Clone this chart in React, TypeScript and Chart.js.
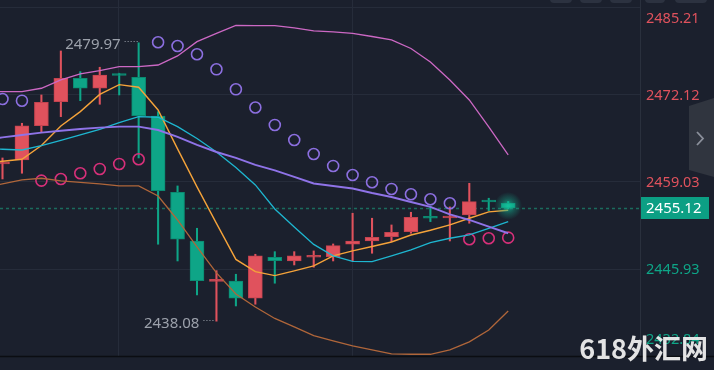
import React, { useEffect, useRef } from 'react';
import { Chart, registerables } from 'chart.js';

Chart.register(...registerables);

// ---------- data ----------
const candleIdx = [0, 1, 2, 3, 4, 5, 6, 7, 8, 9, 10, 11, 12, 13, 14, 15, 16, 17, 18, 19, 20, 21, 22, 23, 24, 25, 26];
const opens = [2461.75, 2462.34, 2467.5, 2471.11, 2474.63, 2473.13, 2475.2, 2474.78, 2468.96, 2457.48, 2450.15, 2444.06, 2444.13, 2441.53, 2447.7, 2447.14, 2447.7, 2447.79, 2449.66, 2450.15, 2450.8, 2451.55, 2453.81, 2453.61, 2454.06, 2456.17, 2455.8];
const highs = [2462.64, 2467.86, 2472.12, 2478.74, 2475.63, 2476.29, 2475.39, 2479.97, 2469.61, 2458.43, 2452.06, 2445.68, 2445.14, 2448.15, 2448.54, 2448.54, 2448.65, 2449.7, 2454.32, 2453.57, 2452.56, 2454.47, 2455.42, 2455.27, 2458.83, 2456.58, 2456.1];
const lows = [2459.48, 2460.34, 2466.6, 2468.86, 2471.26, 2470.72, 2472.12, 2462.64, 2449.66, 2447.14, 2442.03, 2438.08, 2440.37, 2440.63, 2443.79, 2446.54, 2446.2, 2447.14, 2447.14, 2448.3, 2450.05, 2451.31, 2453.06, 2450.15, 2452.82, 2454.71, 2455.0];
const closes = [2461.85, 2467.46, 2471.02, 2474.63, 2473.13, 2475.13, 2475.05, 2469.01, 2457.72, 2450.41, 2444.18, 2444.21, 2441.53, 2447.9, 2447.19, 2447.9, 2447.85, 2449.45, 2450.15, 2450.71, 2451.46, 2453.72, 2453.57, 2453.76, 2456.07, 2456.02, 2455.12];

// indicator lines start one bar before the first visible candle
const lineIdx = [-1, 0, 1, 2, 3, 4, 5, 6, 7, 8, 9, 10, 11, 12, 13, 14, 15, 16, 17, 18, 19, 20, 21, 22, 23, 24, 25, 26];
const upperBand = [2472.62, 2472.62, 2472.62, 2473.13, 2474.38, 2475.28, 2475.78, 2476.38, 2476.38, 2476.63, 2477.99, 2480.14, 2481.4, 2482.58, 2482.55, 2482.55, 2482.2, 2481.75, 2481.6, 2481.4, 2480.92, 2480.4, 2479.12, 2477.09, 2474.38, 2471.37, 2467.31, 2463.09];
const lowerBand = [2458.13, 2458.73, 2459.33, 2459.59, 2459.18, 2458.98, 2458.73, 2458.43, 2458.43, 2456.92, 2453.31, 2449.25, 2445.34, 2442.18, 2440.22, 2438.49, 2437.21, 2435.9, 2435.11, 2434.35, 2433.75, 2433.15, 2433.1, 2433.1, 2433.75, 2434.96, 2436.76, 2439.62];
const midLine = [2465.35, 2465.73, 2466.1, 2466.45, 2466.73, 2467.0, 2467.2, 2467.35, 2467.35, 2466.85, 2465.8, 2464.6, 2463.54, 2462.64, 2461.59, 2460.76, 2459.78, 2458.8, 2458.43, 2458.05, 2457.37, 2456.77, 2456.02, 2455.27, 2454.14, 2453.31, 2452.3, 2451.31];
const cyanLine = [2464.0, 2463.95, 2463.84, 2464.49, 2465.27, 2466.1, 2466.96, 2467.95, 2468.86, 2468.77, 2467.35, 2465.58, 2463.54, 2461.21, 2458.58, 2454.97, 2452.26, 2449.63, 2447.9, 2447.07, 2447.04, 2447.9, 2448.8, 2449.9, 2450.56, 2451.06, 2452.06, 2453.06];
const orangeLine = [2461.89, 2462.14, 2462.45, 2464.52, 2467.46, 2469.61, 2472.2, 2473.67, 2473.28, 2469.86, 2464.0, 2458.28, 2452.79, 2447.37, 2445.53, 2444.93, 2445.64, 2446.39, 2447.9, 2448.65, 2449.32, 2450.0, 2451.05, 2451.76, 2452.56, 2453.57, 2454.52, 2454.77];
const sar = [2471.52, 2471.26, 2459.23, 2459.48, 2460.34, 2460.99, 2461.74, 2462.45, 2480.05, 2479.49, 2478.24, 2475.98, 2472.97, 2470.24, 2467.61, 2465.35, 2463.24, 2461.44, 2460.08, 2458.98, 2457.98, 2457.18, 2456.43, 2455.83, 2450.41, 2450.56, 2450.65];

const yTicks = [2432.84, 2445.93, 2459.03, 2472.12, 2485.21];
const yMin = 2432.84;
const yMax = 2486.41;
const lastPrice = 2455.12;
const highLabel = '2479.97';
const lowLabel = '2438.08';
const vGridIdx = [6, 18];
const watermark = '618外汇网';

// ---------- styles ----------
const BG = '#1b202d';
const GRID = '#262c3a';
const UP = '#e0525d';
const DOWN = '#0ea587';
const FONT = "'Noto Sans', 'DejaVu Sans', sans-serif";

const overlayPlugin = {
  id: 'overlay',
  beforeDatasetsDraw(chart: any) {
    const { ctx, chartArea: a, scales } = chart;
    const xs = scales.x;
    const ys = scales.y;
    ctx.save();
    ctx.strokeStyle = GRID;
    ctx.lineWidth = 1;
    vGridIdx.forEach((v) => {
      const px = Math.round(xs.getPixelForValue(v)) - 0.5;
      ctx.beginPath();
      ctx.moveTo(px, a.top);
      ctx.lineTo(px, a.bottom);
      ctx.stroke();
    });
    const py = Math.round(ys.getPixelForValue(lastPrice)) + 0.5;
    ctx.strokeStyle = '#1b6b5e';
    ctx.lineWidth = 1.5;
    ctx.setLineDash([3, 3]);
    ctx.beginPath();
    ctx.moveTo(a.left, py);
    ctx.lineTo(a.right, py);
    ctx.stroke();
    ctx.restore();
  },
  afterDatasetsDraw(chart: any) {
    const { ctx, scales } = chart;
    const xs = scales.x;
    const ys = scales.y;
    const n = candleIdx.length - 1;
    const gx = xs.getPixelForValue(candleIdx[n]);
    const gy = ys.getPixelForValue(closes[n]) - 2;
    ctx.save();
    const g = ctx.createRadialGradient(gx, gy, 1, gx, gy, 14);
    g.addColorStop(0, 'rgba(20,200,160,0.75)');
    g.addColorStop(0.5, 'rgba(20,170,140,0.35)');
    g.addColorStop(1, 'rgba(20,170,140,0)');
    ctx.fillStyle = g;
    ctx.beginPath();
    ctx.arc(gx, gy, 14, 0, Math.PI * 2);
    ctx.fill();
    ctx.restore();
  },
  afterDraw(chart: any) {
    const { ctx, chartArea: a, scales, width } = chart;
    const xs = scales.x;
    const ys = scales.y;
    ctx.save();

    // high / low annotations
    const hiI = highs.indexOf(Math.max(...highs));
    const loI = lows.indexOf(Math.min(...lows));
    ctx.font = `15px ${FONT}`;
    ctx.fillStyle = '#9ca1ab';
    ctx.textBaseline = 'middle';
    const hx = xs.getPixelForValue(candleIdx[hiI]);
    const hy = ys.getPixelForValue(highs[hiI]);
    ctx.textAlign = 'right';
    ctx.fillText(highLabel, hx - 18, hy + 2);
    const lx = xs.getPixelForValue(candleIdx[loI]);
    const ly = ys.getPixelForValue(lows[loI]);
    ctx.fillText(lowLabel, lx - 17, ly + 3);
    ctx.strokeStyle = '#9ca1ab';
    ctx.lineWidth = 1;
    ctx.setLineDash([1, 2]);
    ctx.beginPath();
    ctx.moveTo(hx - 14, Math.round(hy) - 1.5);
    ctx.lineTo(hx - 1, Math.round(hy) - 1.5);
    ctx.moveTo(lx - 13, Math.round(ly) - 0.5);
    ctx.lineTo(lx - 1, Math.round(ly) - 0.5);
    ctx.stroke();
    ctx.setLineDash([]);

    // y axis labels
    ctx.font = `14.5px ${FONT}`;
    ctx.textAlign = 'left';
    yTicks.forEach((t) => {
      let y = ys.getPixelForValue(t) + 1;
      y = Math.max(a.top + 19, Math.min(a.bottom - 16, y));
      ctx.fillStyle = t > lastPrice ? UP : DOWN;
      ctx.fillText(t.toFixed(2), a.right + 6, y);
    });

    // last price tag
    const py = ys.getPixelForValue(lastPrice);
    ctx.fillStyle = '#0c9f84';
    ctx.fillRect(a.right + 1, Math.round(py) - 11, 68, 22);
    ctx.fillStyle = '#ffffff';
    ctx.font = `15px ${FONT}`;
    ctx.fillText(lastPrice.toFixed(2), a.right + 6, py + 0.5);

    // bottom line
    ctx.strokeStyle = '#0b0d12';
    ctx.lineWidth = 1.5;
    ctx.beginPath();
    ctx.moveTo(0, a.bottom + 0.5);
    ctx.lineTo(width, a.bottom + 0.5);
    ctx.stroke();

    // collapse handle
    ctx.fillStyle = '#30353f';
    ctx.beginPath();
    ctx.moveTo(689, 106);
    ctx.lineTo(714, 98);
    ctx.lineTo(714, 177);
    ctx.lineTo(689, 170);
    ctx.closePath();
    ctx.fill();
    ctx.strokeStyle = '#8b909b';
    ctx.lineWidth = 1.8;
    ctx.beginPath();
    ctx.moveTo(697, 132);
    ctx.lineTo(703, 138.5);
    ctx.lineTo(697, 145);
    ctx.stroke();

    // toolbar stubs at top
    ctx.fillStyle = '#2c3240';
    [[550, 22], [580, 22], [610, 22], [645, 20], [675, 32]].forEach(([x0, w]) => {
      ctx.beginPath();
      ctx.roundRect(x0, -8, w, 11, 4);
      ctx.fill();
    });

    // watermark
    ctx.font = `bold 27px 'Noto Sans CJK SC', ${FONT}`;
    ctx.textAlign = 'right';
    ctx.textBaseline = 'alphabetic';
    ctx.fillStyle = 'rgba(238,238,238,0.95)';
    ctx.fillText(watermark, 708, 359);
    ctx.restore();
  },
};

export default function App() {
  const ref = useRef<HTMLCanvasElement | null>(null);

  useEffect(() => {
    document.body.style.margin = '0';
    const canvas = ref.current;
    if (!canvas) return;

    const bodies = candleIdx.map((x, i) => ({ x, y: [opens[i], closes[i]] }));
    const wicks = candleIdx.map((x, i) => ({ x, y: [lows[i], highs[i]] }));
    const colors = candleIdx.map((_, i) => (closes[i] >= opens[i] ? UP : DOWN));
    const borderColors = candleIdx.map((_, i) => (closes[i] >= opens[i] ? '#c4434f' : '#0b8a71'));
    const toPts = (arr: number[]) => lineIdx.map((x, i) => ({ x, y: arr[i] }));
    const sarPts = candleIdx.map((x, i) => ({ x, y: sar[i] }));
    const sarColors = candleIdx.map((_, i) => (sar[i] > closes[i] ? '#8c6fe0' : '#d8307a'));

    const spacing = 19.45;
    const plotW = 640;
    const xMin = -2.5 / spacing;
    const xMax = xMin + plotW / spacing;

    const lineDs = (data: number[], color: string, w: number) => ({
      type: 'line' as const,
      data: toPts(data),
      borderColor: color,
      borderWidth: w,
      pointRadius: 0,
      tension: 0,
      fill: false,
      order: 0,
    });

    const chart = new Chart(canvas, {
      type: 'bar',
      data: {
        datasets: [
          lineDs(upperBand, '#cc68c4', 1.3),
          lineDs(lowerBand, '#b0663a', 1.3),
          lineDs(midLine, '#8f73e8', 1.9),
          lineDs(cyanLine, '#1eb6d0', 1.3),
          lineDs(orangeLine, '#f5a33a', 1.4),
          {
            type: 'line' as const,
            data: sarPts,
            showLine: false,
            pointRadius: 5.5,
            pointBorderWidth: 1.6,
            pointBackgroundColor: 'rgba(0,0,0,0)',
            pointBorderColor: sarColors,
            order: 0,
          },
          {
            type: 'bar' as const,
            data: bodies as any,
            backgroundColor: colors,
            borderColor: borderColors,
            borderWidth: 1,
            borderSkipped: false,
            barThickness: 14,
            minBarLength: 2,
            grouped: false,
            order: 5,
          },
          {
            type: 'bar' as const,
            data: wicks as any,
            backgroundColor: colors,
            borderWidth: 0,
            barThickness: 1.4,
            grouped: false,
            order: 6,
          },
        ] as any,
      },
      options: {
        animation: false,
        responsive: false,
        maintainAspectRatio: false,
        events: [],
        layout: { autoPadding: false, padding: { left: 0, right: 0, top: 0, bottom: 14 } },
        plugins: { legend: { display: false }, tooltip: { enabled: false } },
        scales: {
          x: {
            type: 'linear',
            display: false,
            min: xMin,
            max: xMax,
            offset: false,
          },
          y: {
            type: 'linear',
            position: 'right',
            min: yMin,
            max: yMax,
            afterBuildTicks: (scale: any) => {
              scale.ticks = yTicks.map((v) => ({ value: v }));
            },
            afterFit: (scale: any) => {
              scale.width = 74;
            },
            grid: { color: GRID, lineWidth: 1, drawTicks: false },
            border: { display: true, color: '#2a303d', width: 1 },
            ticks: { display: false },
          },
        },
      },
      plugins: [overlayPlugin],
    } as any);

    return () => chart.destroy();
  }, []);

  return (
    <div style={{ position: 'fixed', left: 0, top: 0, width: 714, height: 370, background: BG }}>
      <canvas ref={ref} width={714} height={370} style={{ display: 'block', width: 714, height: 370 }} />
    </div>
  );
}
